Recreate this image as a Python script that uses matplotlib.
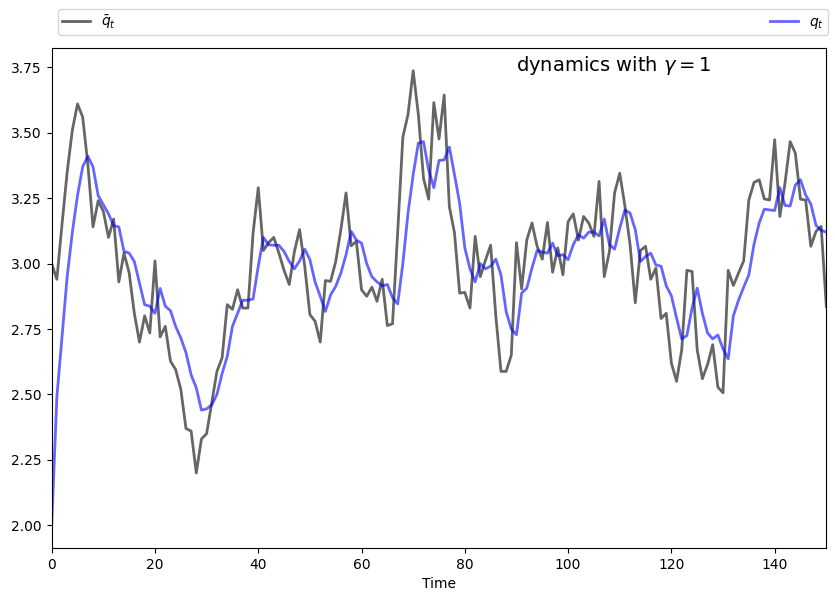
import matplotlib
matplotlib.use("Agg")

import matplotlib.pyplot as plt
import numpy as np


# values, one per time step t = 0..150
q_bar = [
    3.00, 2.94, 3.15, 3.35, 3.51, 3.61, 3.56, 3.38, 3.14, 3.24,
    3.20, 3.10, 3.17, 2.93, 3.04, 2.965, 2.81, 2.70, 2.80, 2.735,
    3.01, 2.72, 2.76, 2.627, 2.595, 2.52, 2.37, 2.36, 2.20, 2.33,
    2.35, 2.47, 2.588, 2.64, 2.843, 2.825, 2.90, 2.83, 2.83, 3.117,
    3.29, 3.05, 3.08, 3.10, 3.04, 2.974, 2.92, 3.046, 3.13, 2.99,
    2.805, 2.78, 2.70, 2.935, 2.932, 3.008, 3.13, 3.27, 3.068, 3.085,
    2.90, 2.875, 2.91, 2.856, 2.94, 2.763, 2.77, 3.12, 3.483, 3.57,
    3.737, 3.57, 3.326, 3.246, 3.615, 3.476, 3.644, 3.218, 3.117, 2.887,
    2.89, 2.83, 3.104, 2.95, 3.013, 3.07, 2.80, 2.588, 2.588, 2.65,
    3.08, 2.903, 3.09, 3.155, 3.066, 3.017, 3.157, 2.967, 3.06, 2.957,
    3.16, 3.19, 3.09, 3.18, 3.155, 3.104, 3.314, 2.95, 3.046, 3.27,
    3.345, 3.22, 3.072, 2.85, 3.05, 3.066, 2.94, 2.983, 2.79, 2.81,
    2.62, 2.55, 2.67, 2.974, 2.97, 2.67, 2.56, 2.614, 2.69, 2.528,
    2.506, 2.974, 2.916, 2.964, 3.01, 3.243, 3.31, 3.32, 3.247, 3.243,
    3.473, 3.18, 3.307, 3.466, 3.422, 3.246, 3.243, 3.066, 3.123, 3.142,
    2.836,
]

q = [
    2.00, 2.49, 2.72, 2.95, 3.12, 3.26, 3.37, 3.41, 3.37, 3.26,
    3.225, 3.19, 3.145, 3.14, 3.047, 3.04, 3.008, 2.925, 2.843, 2.837,
    2.81, 2.905, 2.837, 2.82, 2.76, 2.716, 2.66, 2.575, 2.525, 2.44,
    2.445, 2.46, 2.50, 2.58, 2.646, 2.76, 2.81, 2.86, 2.86, 2.865,
    2.99, 3.10, 3.072, 3.07, 3.07, 3.046, 3.008, 2.98, 3.01, 3.055,
    3.015, 2.93, 2.875, 2.817, 2.88, 2.913, 2.964, 3.034, 3.123, 3.09,
    3.078, 3.00, 2.95, 2.93, 2.915, 2.92, 2.87, 2.846, 3.00, 3.193,
    3.34, 3.46, 3.466, 3.358, 3.29, 3.394, 3.396, 3.445, 3.34, 3.23,
    3.06, 2.98, 2.93, 3.00, 2.98, 2.99, 3.017, 2.957, 2.817, 2.75,
    2.728, 2.887, 2.906, 2.983, 3.05, 3.044, 3.04, 3.078, 3.03, 3.034,
    3.015, 3.072, 3.11, 3.097, 3.12, 3.12, 3.106, 3.17, 3.072, 3.055,
    3.135, 3.205, 3.193, 3.13, 3.008, 3.027, 3.04, 2.995, 2.99, 2.915,
    2.877, 2.792, 2.712, 2.725, 2.83, 2.906, 2.81, 2.735, 2.712, 2.727,
    2.674, 2.636, 2.80, 2.86, 2.91, 2.957, 3.074, 3.155, 3.208, 3.205,
    3.203, 3.29, 3.222, 3.22, 3.30, 3.32, 3.262, 3.228, 3.146, 3.127,
    3.12,
]

time = np.arange(len(q))


def main() -> None:
    fig = plt.figure(figsize=(8.35, 6.02), dpi=100)
    ax = fig.add_axes([0.0619, 0.0897, 0.9277, 0.8306])

    ax.plot(time, q_bar, "k-", alpha=0.6, linewidth=2, label=r"$\bar q_t$")
    ax.plot(time, q, "b-", alpha=0.6, linewidth=2, label=r"$q_t$")

    ax.set_xlim(0, 150)
    ax.set_xlabel("Time")

    ax.text(90, 3.735, r"dynamics with $\gamma = 1$", fontsize=14)

    ax.legend(
        bbox_to_anchor=(0.008, 1.026, 0.994, 0.045),
        loc=3,
        ncol=2,
        mode="expand",
        borderaxespad=0.0,
        borderpad=0.3,
    )

    fig.savefig("out.png", dpi=100)
    plt.close(fig)


if __name__ == "__main__":
    main()
